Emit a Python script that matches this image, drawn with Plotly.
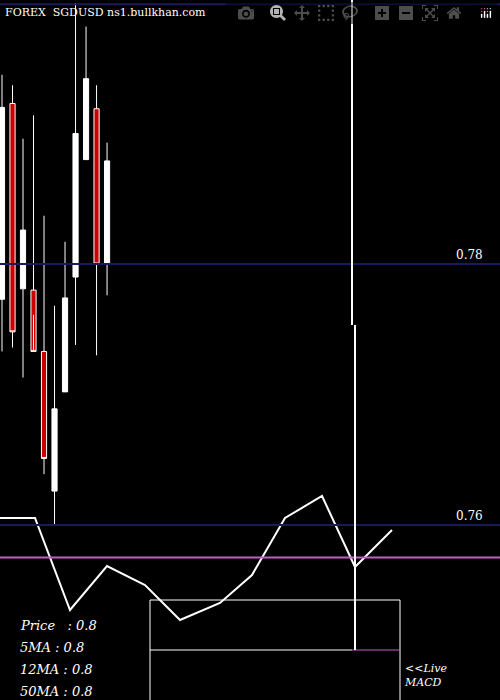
import plotly.graph_objects as go

idx = list(range(11))
opens = [0.7773, 0.7923, 0.7781, 0.7780, 0.7733, 0.7626, 0.7702, 0.7790, 0.7880, 0.7919, 0.7800]
closes = [0.7920, 0.7748, 0.7826, 0.7733, 0.7651, 0.7689, 0.7774, 0.7900, 0.7942, 0.7800, 0.7879]
highs = [0.7945, 0.7937, 0.7896, 0.7914, 0.7837, 0.7768, 0.7817, 0.8000, 0.7982, 0.7937, 0.7893]
lows = [0.7733, 0.7736, 0.7713, 0.7761, 0.7639, 0.7600, 0.7730, 0.7738, 0.7904, 0.7730, 0.7776]

macd_x = [0, 35, 70, 107, 145, 180, 220, 252, 285, 322, 355, 392]
macd_y = [518, 518, 610, 566, 585, 620, 603, 575, 518, 496, 567, 530]

levels = [0.7999, 0.78, 0.76]
level_labels = ["", "0.78", "0.76"]
magenta_level = 0.7575
info = ["Price   : 0.8", "5MA : 0.8", "12MA : 0.8", "50MA : 0.8"]

fig = go.Figure()
for lv in levels:
    fig.add_shape(type="line", xref="paper", x0=0, x1=1, yref="y", y0=lv, y1=lv,
                  line=dict(color="#1a1a5e", width=2))
fig.add_shape(type="line", xref="paper", x0=0, x1=1, yref="y", y0=magenta_level, y1=magenta_level,
              line=dict(color="#c060c0", width=2))
fig.add_trace(go.Candlestick(x=idx, open=opens, high=highs, low=lows, close=closes,
    increasing=dict(fillcolor="white", line=dict(color="white", width=1)),
    decreasing=dict(fillcolor="#cc0000", line=dict(color="white", width=1)),
    whiskerwidth=0, showlegend=False))
fig.add_trace(go.Scatter(x=macd_x, y=macd_y, xaxis="x2", yaxis="y2", mode="lines",
    line=dict(color="white", width=2), showlegend=False))
fig.add_shape(type="rect", xref="x2", yref="y2", x0=150, x1=400, y0=600, y1=702,
              line=dict(color="white", width=1))
fig.add_shape(type="line", xref="x2", yref="y2", x0=150, x1=352, y0=650, y1=650, line=dict(color="white", width=1))
fig.add_shape(type="line", xref="x2", yref="y2", x0=352, x1=400, y0=650, y1=650, line=dict(color="#c060c0", width=1))
fig.add_shape(type="line", xref="x2", yref="y2", x0=352, x1=352, y0=0, y1=325, line=dict(color="white", width=2))
fig.add_shape(type="line", xref="x2", yref="y2", x0=355, x1=355, y0=325, y1=650, line=dict(color="white", width=2))

for lv, lab in zip(levels, level_labels):
    if lab:
        fig.add_annotation(x=0.97, xref="paper", y=lv, yref="y", text=lab, showarrow=False,
                           xanchor="right", yanchor="bottom", font=dict(color="white", size=12, family="DejaVu Serif"))
fig.add_annotation(x=3, xref="x2", y=12, yref="y2", text="FOREX  SGDUSD ns1.bullkhan.com", showarrow=False,
                   xanchor="left", font=dict(color="white", size=11, family="DejaVu Serif"))
for i, t in enumerate(info):
    fig.add_annotation(x=18, xref="x2", y=625 + i * 22, yref="y2", text="<i>" + t + "</i>", showarrow=False,
                       xanchor="left", font=dict(color="white", size=13, family="DejaVu Serif"))
fig.add_annotation(x=402, xref="x2", y=675, yref="y2", text="<i><<Live<br>MACD</i>", showarrow=False,
                   xanchor="left", align="left", font=dict(color="white", size=11, family="DejaVu Serif"))

fig.update_layout(width=500, height=700, margin=dict(l=0, r=0, t=0, b=0),
    paper_bgcolor="black", plot_bgcolor="black",
    xaxis=dict(range=[-0.19, 47.4], visible=False, rangeslider=dict(visible=False)),
    yaxis=dict(range=[0.74659, 0.80023], visible=False),
    xaxis2=dict(range=[0, 500], visible=False, overlaying="x"),
    yaxis2=dict(range=[700, 0], visible=False, overlaying="y"))
fig.write_html("out.html", post_script="document.body.style.margin='0';document.body.style.overflow='hidden';")
